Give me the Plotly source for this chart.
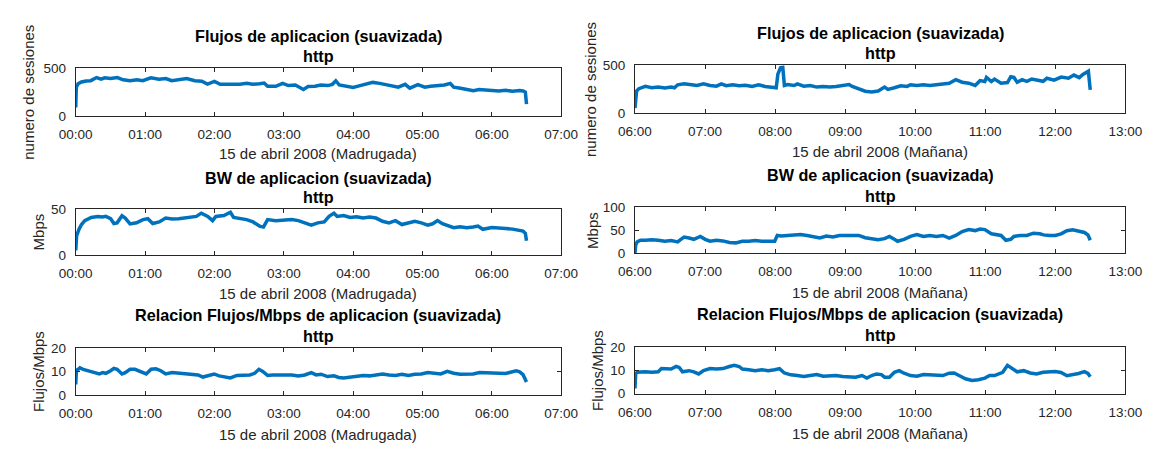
import pandas as pd
import plotly.graph_objects as go

W, H = 1168, 449
FONT = "Liberation Sans, Arial, Helvetica, sans-serif"
BLUE = "#0072BD"
INK = "#262626"
TICK_SIZE = 13.5
LABEL_SIZE = 15
TITLE_SIZE = 16.2

# ---- http flows, 15 April 2008, early morning (minutes after 00:00) ----
flows_madrugada_min = [0, 0.5, 2, 5, 9, 13, 18, 22, 25, 30, 36, 41, 47, 53, 58, 65, 72, 78, 83, 89,
                       96, 103, 109, 114, 120, 125, 131, 137, 142, 148, 153, 159, 163, 166, 173, 179,
                       184, 190, 193, 197, 201, 207, 212, 218, 222, 225, 228, 235, 240, 246, 251, 257,
                       263, 268, 274, 279, 285, 289, 296, 302, 307, 313, 319, 324, 327, 333, 338, 344,
                       349, 355, 360, 366, 372, 378, 384, 387, 389, 390]
flows_madrugada = [90, 300, 335, 355, 365, 368, 400, 383, 397, 390, 400, 377, 367, 377, 367, 397, 383,
                   390, 367, 377, 390, 367, 363, 333, 360, 330, 330, 337, 330, 340, 330, 337, 343, 310,
                   310, 340, 317, 323, 300, 277, 307, 310, 323, 317, 330, 367, 323, 310, 297, 317, 333,
                   350, 340, 327, 310, 300, 330, 290, 327, 300, 310, 317, 323, 340, 300, 290, 277, 263,
                   277, 270, 270, 262, 268, 258, 265, 262, 250, 125]

# ---- http flows, morning (minutes after 06:00) ----
flows_manana_min = [0, 1.4, 3.3, 8.9, 14.4, 19.9, 25.5, 31, 33.8, 36.6, 42.1, 47.6, 53.2, 58.7, 64.3,
                    69.8, 74, 78.1, 83.7, 89.2, 94.7, 100.3, 105.8, 111.4, 116.9, 121, 122.4, 124.7,
                    126.6, 127.4, 128, 130.7, 136.3, 139.1, 144.6, 150.1, 155.7, 161.2, 166.8, 172.3,
                    177.8, 183.4, 186.1, 191.7, 197.2, 202.8, 208.3, 213.8, 216.6, 222.2, 227.7, 233.2,
                    236, 241.5, 247.1, 252.6, 258.2, 263.7, 269.2, 274.8, 280.3, 285.9, 291.4, 295.6,
                    299.7, 301.1, 305.3, 308, 313.6, 319.1, 321.9, 324.6, 327.4, 331.6, 335.7, 339.9,
                    345.4, 349.6, 352.8, 359, 365.1, 371.3, 376, 380.6, 383.7, 386.8, 388.4, 390]
flows_manana = [51, 231, 255, 279, 265, 272, 262, 272, 265, 296, 306, 299, 289, 306, 289, 282, 306,
                286, 296, 286, 292, 279, 296, 279, 272, 265, 408, 476, 483, 391, 289, 299, 289, 306,
                282, 289, 272, 279, 272, 279, 286, 299, 279, 255, 228, 221, 231, 272, 248, 265, 286,
                279, 296, 289, 296, 289, 299, 306, 313, 350, 323, 313, 289, 340, 330, 374, 330, 357,
                313, 320, 381, 374, 323, 350, 333, 357, 340, 333, 365, 345, 378, 365, 399, 372, 405,
                432, 439, 243]

# ---- http bandwidth (Mbps), early morning ----
bw_madrugada_min = [0, 0.8, 2.8, 5, 7.8, 13.4, 19, 23.2, 26, 30.2, 33, 35.8, 40, 42.8, 47, 52.6, 58.2,
                    62.4, 66.6, 72.2, 77.8, 83.4, 89, 94.6, 100.2, 104.4, 108.6, 114.2, 118.4, 121.2,
                    128.2, 133.8, 136.6, 142.2, 147.8, 153.4, 159, 162.4, 166, 173, 181.4, 187, 192.6,
                    198.2, 203.8, 209.4, 215, 219.2, 223.4, 226.2, 231.8, 237.4, 243, 248.6, 254.2,
                    259.8, 265.4, 271, 276.6, 282.2, 287.8, 293.4, 299, 304.6, 308.8, 313, 317.2,
                    322.8, 327, 332.6, 338.2, 343.8, 348, 352.2, 360, 372, 378, 387, 389, 390]
bw_madrugada = [5.2, 21, 28, 33.2, 37.4, 40.9, 42, 41.3, 42, 39.5, 34.3, 35, 42.7, 40.2, 33.9, 35,
                38.5, 39.5, 34.3, 36, 40.2, 39.2, 39.5, 40.2, 40.9, 42, 45.5, 42, 37.4, 42, 43, 46.5,
                40.9, 39.5, 38.5, 36, 31.5, 30.4, 38.5, 37.4, 38.1, 38.5, 37.4, 35, 32.5, 35, 36, 42,
                45.5, 42, 43, 40.9, 41.6, 40.2, 41.3, 40.2, 36.7, 35, 37.4, 33.2, 35, 36.7, 35, 32.5,
                34, 37.4, 34, 31.5, 29.7, 30.8, 29.7, 30.4, 31.5, 28, 29.9, 28.9, 28.2, 26, 23.6, 15.5]

# ---- http bandwidth (Mbps), morning ----
bw_manana_min = [0, 0.6, 1.9, 4.7, 8.9, 14.4, 19.9, 25.5, 31, 36.6, 39.3, 42.1, 46.3, 50.4, 56, 60.1,
                 64.3, 69.8, 75.3, 80.9, 86.4, 91.9, 97.5, 103, 108.6, 114.1, 119.7, 121.9, 125.2,
                 130.7, 136.3, 141.8, 147.4, 152.9, 158.4, 164, 169.5, 175.1, 180.6, 186.1, 191.7,
                 197.2, 202.8, 208.3, 213.8, 218, 222.2, 224.9, 230.5, 236, 241.5, 247.1, 252.6,
                 258.2, 263.7, 269.2, 274.8, 280.3, 285.9, 291.4, 295.6, 299.7, 305.3, 310.8, 313.6,
                 317.7, 321.9, 324.6, 330.2, 335.7, 341.3, 346.8, 350, 355, 360, 365, 370, 375, 380,
                 385, 388, 390]
bw_manana = [0, 17.5, 24.5, 28, 28, 29.4, 28, 25.9, 27.3, 24.5, 30.1, 35, 32.9, 30.1, 36.4, 30.1,
             25.9, 28, 26.6, 23.1, 22.4, 25.9, 25.9, 27.3, 25.9, 26.6, 25.9, 38.5, 37.1, 38.5, 39.9,
             40.6, 38.5, 36.4, 32.9, 37.1, 35, 38.5, 38.5, 37.1, 38.5, 33.6, 31.5, 29.4, 31.5, 36.4,
             30.1, 25.9, 30.1, 36.4, 40.6, 36.4, 38.5, 36.4, 38.5, 32.9, 38.5, 46.9, 51.1, 49, 52.5,
             51.1, 42, 38.5, 38.5, 28, 30.1, 36.4, 38.5, 38.5, 43.4, 42, 39.7, 38.4, 38.4, 41.8, 48.6,
             50.7, 48.6, 45, 39.7, 28]

# ---- flows per Mbps, early morning ----
ratio_madrugada_min = [0, 0.6, 2.2, 3.6, 6.4, 10.6, 16.2, 20.4, 23.2, 26, 30.2, 33, 35.8, 40, 42.8,
                       47, 51.2, 55.4, 61, 65.2, 69.4, 73.6, 77.8, 83.4, 89, 94.6, 100.2, 105.8, 110,
                       114.2, 119.8, 124, 128.2, 133.8, 139.4, 145, 150.6, 154.8, 158.5, 161.8, 166,
                       170.2, 175.8, 181.4, 187, 192.6, 198.2, 203.8, 208, 212.2, 217.8, 223.4, 227.6,
                       231.8, 237.4, 243, 248.6, 254.2, 259.8, 265.4, 271, 276.6, 282.2, 287.8, 293.4,
                       299, 304.6, 310.2, 315.8, 321.4, 327, 332.6, 338.2, 343.8, 349.4, 360, 372, 381,
                       384, 387, 390]
ratio_madrugada = [4.5, 10.7, 11, 11.6, 11, 10.4, 9.6, 9, 9.6, 9.3, 10.4, 11.4, 11, 9, 9.6, 11, 11,
                   10.1, 9, 11, 11.2, 10.4, 9, 9.6, 9.3, 9.3, 9, 8.6, 7.7, 8.2, 9, 8.2, 7.9, 7.3, 8.4,
                   8.4, 8.6, 9.3, 11, 10.1, 8.4, 8.6, 8.6, 8.4, 8.6, 8.2, 8.6, 9.6, 8.6, 8.9, 7.9, 8.2,
                   7.5, 7.3, 7.7, 7.9, 8.4, 8.2, 8.6, 9, 8.6, 8.4, 8.9, 8.4, 8.9, 9, 9.6, 9.3, 9, 10.1,
                   9.3, 8.9, 9, 9, 9.6, 9.4, 9.2, 10.4, 9.9, 8.7, 5.6]

# ---- flows per Mbps, morning ----
ratio_manana_min = [0, 0.6, 1.9, 4.7, 8.9, 14.4, 19.9, 22.7, 26.9, 31, 35.2, 37.9, 40.7, 46.3, 50.4,
                    54.6, 58.7, 64.3, 69.8, 75.3, 80.9, 85, 89.2, 92, 97.5, 103, 108.6, 114.1, 119.7,
                    123.8, 128, 133.5, 139.1, 144.6, 150.1, 155.7, 161.2, 166.8, 172.3, 177.8, 183.4,
                    188.9, 194.5, 198.6, 202.8, 206.9, 211.1, 213.8, 218, 222.2, 226.3, 230.5, 236,
                    241.5, 247.1, 252.6, 258.2, 263.7, 269.2, 273.4, 277.6, 283.1, 288.6, 294.2,
                    299.7, 303.9, 308, 310.8, 315, 319.1, 323.3, 327.4, 333, 338.5, 344, 349.6, 360,
                    365, 370, 375, 380, 385, 388, 390]
ratio_manana = [2.2, 8.5, 9.2, 9.4, 9.4, 9.2, 9.4, 10.8, 10.6, 10.6, 11.7, 11.3, 9.4, 9.9, 9.4, 8.5,
                9.9, 10.8, 10.6, 10.8, 11.7, 12.2, 11.7, 10.6, 10.3, 9.9, 10.3, 9.9, 10.3, 10.8, 8.9,
                8.1, 7.8, 7.4, 7.8, 8.2, 7.5, 7.8, 7.8, 7.4, 7.4, 7.1, 7.8, 6.7, 7.8, 8.5, 8.2, 7.1,
                7.1, 9.2, 9.9, 8.8, 7.8, 7.5, 8.2, 8.1, 8.2, 7.8, 8.8, 8.9, 7.8, 6.4, 5.7, 6, 6.7, 7.8,
                7.8, 8.5, 9.2, 12.2, 10.6, 9.4, 9.9, 8.9, 8.5, 9.2, 9.5, 9.1, 7.7, 8.1, 8.7, 9.5, 8.7,
                7.3]

# axis box of each panel in pixels: (left, right, top, bottom)
panels = [
    dict(start="2008-04-15 00:00", t=flows_madrugada_min, v=flows_madrugada, ymax=500, dtick=500,
         box=(60.5, 560.5, 63, 113), title="Flujos de aplicacion (suavizada)", ty=(30.5, 50.5),
         ylabel="numero de sesiones", ylx=11, xlabel="15 de abril 2008 (Madrugada)", xly=152),
    dict(start="2008-04-15 06:00", t=flows_manana_min, v=flows_manana, ymax=500, dtick=500,
         box=(636.5, 1141.5, 60.5, 109.5), title="Flujos de aplicacion (suavizada)", ty=(27, 47.5),
         ylabel="numero de sesiones", ylx=590, xlabel="15 de abril 2008 (Mañana)", xly=149),
    dict(start="2008-04-15 00:00", t=bw_madrugada_min, v=bw_madrugada, ymax=50, dtick=50,
         box=(60.5, 560.5, 209, 256.7), title="BW de aplicacion (suavizada)", ty=(176.5, 197),
         ylabel="Mbps", ylx=22, xlabel="15 de abril 2008 (Madrugada)", xly=296.5),
    dict(start="2008-04-15 06:00", t=bw_manana_min, v=bw_manana, ymax=100, dtick=50,
         box=(636.5, 1141.5, 207, 254.7), title="BW de aplicacion (suavizada)", ty=(173.5, 195.5),
         ylabel="Mbps", ylx=592, xlabel="15 de abril 2008 (Mañana)", xly=295),
    dict(start="2008-04-15 00:00", t=ratio_madrugada_min, v=ratio_madrugada, ymax=20, dtick=10,
         box=(60.5, 560.5, 353, 401.5), title="Relacion Flujos/Mbps de aplicacion (suavizada)",
         ty=(318.3, 340.5), ylabel="Flujos/Mbps", ylx=22, xlabel="15 de abril 2008 (Madrugada)",
         xly=442),
    dict(start="2008-04-15 06:00", t=ratio_manana_min, v=ratio_manana, ymax=20, dtick=10,
         box=(636.5, 1141.5, 352, 400), title="Relacion Flujos/Mbps de aplicacion (suavizada)",
         ty=(317.7, 339.3), ylabel="Flujos/Mbps", ylx=598, xlabel="15 de abril 2008 (Mañana)",
         xly=441),
]


def px(x):
    return x / W


def py(y):
    return 1 - y / H


fig = go.Figure()
annotations = []
layout = {}

for i, p in enumerate(panels, start=1):
    assert len(p["t"]) == len(p["v"]), (i, len(p["t"]), len(p["v"]))
    t0 = pd.Timestamp(p["start"])
    times = t0 + pd.to_timedelta(p["t"], unit="min")
    sfx = "" if i == 1 else str(i)
    fig.add_trace(go.Scatter(
        x=times, y=p["v"], mode="lines",
        line=dict(color=BLUE, width=3.5),
        xaxis="x" + sfx, yaxis="y" + sfx, showlegend=False, hoverinfo="skip",
    ))
    x0, x1, y0, y1 = p["box"]
    common = dict(
        showline=True, linecolor=INK, linewidth=1, mirror="ticks",
        ticks="inside", ticklen=4, tickwidth=1, tickcolor=INK,
        showgrid=False, zeroline=False,
        tickfont=dict(family=FONT, size=TICK_SIZE, color=INK),
    )
    layout["xaxis" + sfx] = dict(
        common, domain=[px(x0), px(x1)], anchor="y" + sfx, type="date",
        range=[t0, t0 + pd.Timedelta(hours=7)],
        tick0=t0, dtick=3600000, tickformat="%H:%M", ticklabelstandoff=6,
    )
    layout["yaxis" + sfx] = dict(
        common, domain=[py(y1), py(y0)], anchor="x" + sfx,
        range=[0, p["ymax"]], tick0=0, dtick=p["dtick"], ticklabelstandoff=6,
    )
    cx = (x0 + x1) / 2
    annotations += [
        dict(text="<b>%s</b>" % p["title"], x=px(cx), y=py(p["ty"][0]),
             font=dict(size=TITLE_SIZE)),
        dict(text="<b>http</b>", x=px(cx), y=py(p["ty"][1]), font=dict(size=TITLE_SIZE)),
        dict(text=p["xlabel"], x=px(cx), y=py(p["xly"]), font=dict(color=INK)),
        dict(text=p["ylabel"], x=px(p["ylx"]), y=py((y0 + y1) / 2), textangle=-90,
             font=dict(color=INK)),
    ]

for a in annotations:
    a.update(xref="paper", yref="paper", xanchor="center", yanchor="middle",
             showarrow=False)
    f = dict(family=FONT, size=LABEL_SIZE, color="#000000")
    f.update(a.get("font", {}))
    a["font"] = f

fig.update_layout(
    width=W, height=H,
    margin=dict(l=0, r=0, t=0, b=0),
    paper_bgcolor="white", plot_bgcolor="white",
    annotations=annotations,
    **layout,
)

fig.write_html("out.html")
